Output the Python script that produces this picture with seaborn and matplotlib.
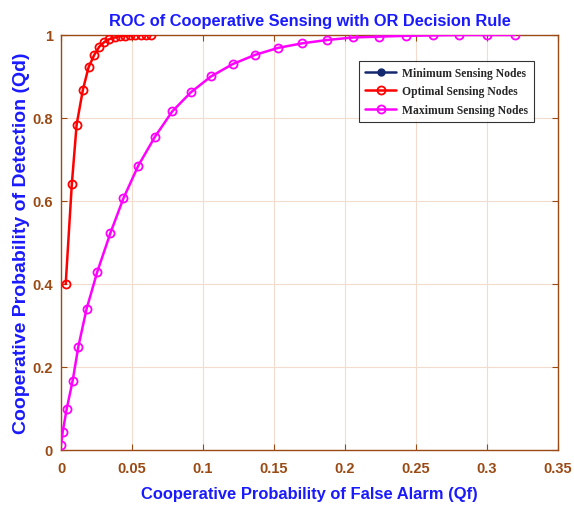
import matplotlib
matplotlib.use("Agg")
import matplotlib.pyplot as plt
import seaborn as sns
import numpy as np
import pandas as pd

# ---- data ----
qf_optimal = [0.0033, 0.0076, 0.011, 0.0154, 0.0194, 0.0234, 0.027, 0.0305, 0.034,
              0.0378, 0.0415, 0.045, 0.0487, 0.0523, 0.056, 0.0597, 0.0633]
qd_optimal = [0.40, 0.64, 0.784, 0.868, 0.922, 0.952, 0.972, 0.983, 0.99,
              0.994, 0.997, 0.998, 0.999, 1.0, 1.0, 1.0, 1.0]

# minimum-nodes curve: listed in the legend but no visible points in the reference
qf_minimum = []
qd_minimum = []

qf_maximum = [0.0, 0.0012, 0.004, 0.0082, 0.0122, 0.018, 0.0256, 0.0347, 0.0439,
              0.0544, 0.0662, 0.0784, 0.0915, 0.1056, 0.121, 0.1366, 0.153, 0.170,
              0.1876, 0.2058, 0.224, 0.243, 0.2618, 0.2805, 0.2998, 0.3197]
qd_maximum = [0.012, 0.044, 0.099, 0.167, 0.249, 0.34, 0.43, 0.522, 0.606,
              0.685, 0.755, 0.816, 0.862, 0.90, 0.930, 0.952, 0.969, 0.980,
              0.988, 0.994, 0.996, 0.998, 0.999, 1.0, 1.0, 1.0]

series_names = ["Minimum Sensing Nodes", "Optimal Sensing Nodes", "Maximum Sensing Nodes"]
x_ticks = [0, 0.05, 0.1, 0.15, 0.2, 0.25, 0.3, 0.35]
x_tick_labels = ["0", "0.05", "0.1", "0.15", "0.2", "0.25", "0.3", "0.35"]
y_ticks = [0, 0.2, 0.4, 0.6, 0.8, 1.0]
y_tick_labels = ["0", "0.2", "0.4", "0.6", "0.8", "1"]

title = "ROC of Cooperative Sensing with OR Decision Rule"
xlabel = "Cooperative Probability of False Alarm (Qf)"
ylabel = "Cooperative Probability of Detection (Qd)"

# ---- style ----
sns.set_theme(style="white")
plt.rcParams['font.family'] = ['Liberation Sans', 'DejaVu Sans']

brown = "#9a4a14"
grid_c = "#f2dccd"
blue = "#1a1aff"
navy = "#14286e"

fig = plt.figure(figsize=(5.74, 5.06), dpi=100)
ax = fig.add_axes([0.1063, 0.1087, 0.972 - 0.1063, 0.9289 - 0.1087])

# legend-only entry (empty series)
ax.plot(qf_minimum, qd_minimum, color=navy, lw=1.8, marker="o", markersize=5,
        markerfacecolor=navy, markeredgecolor=navy, label=series_names[0])
sns.lineplot(x=qf_optimal, y=qd_optimal, ax=ax, sort=False, estimator=None,
             color="red", lw=1.8, marker="o", markersize=5.8,
             markerfacecolor="none", markeredgecolor="red", markeredgewidth=1.3,
             label=series_names[1], zorder=3)
sns.lineplot(x=qf_maximum, y=qd_maximum, ax=ax, sort=False, estimator=None,
             color="#ff00ff", lw=1.8, marker="o", markersize=5.8,
             markerfacecolor="none", markeredgecolor="#ff00ff", markeredgewidth=1.3,
             label=series_names[2], zorder=3)

ax.set_xlim(0, 0.35)
ax.set_ylim(0, 1)
ax.set_xticks(x_ticks)
ax.set_xticklabels(x_tick_labels)
ax.set_yticks(y_ticks)
ax.set_yticklabels(y_tick_labels)

ax.grid(True, color=grid_c, lw=0.8)
ax.set_axisbelow(True)
for s in ax.spines.values():
    s.set_color(brown)
    s.set_linewidth(1.0)
    s.set_visible(True)

ax.tick_params(axis="both", which="both", direction="in", length=4, width=0.8,
               colors=brown, labelcolor=brown, labelsize=10.5,
               top=True, right=True, bottom=True, left=True)
for lbl in ax.get_xticklabels() + ax.get_yticklabels():
    lbl.set_fontweight("bold")
ax.tick_params(axis="x", pad=8)
ax.tick_params(axis="y", pad=6)

ax.set_title(title, color=blue, fontsize=11.8, fontweight="bold", pad=7.5)
ax.set_xlabel(xlabel, color=blue, fontsize=11.9, fontweight="bold", labelpad=8)
ax.set_ylabel(ylabel, color=blue, fontsize=14, fontweight="bold", labelpad=1.5)

leg = ax.legend(loc="upper right", bbox_to_anchor=(0.9517, 0.937),
                prop={"family": "Liberation Serif", "weight": "bold", "size": 8.4},
                frameon=True, fancybox=False, edgecolor="black",
                borderpad=0.5, labelspacing=0.55, handlelength=2.7,
                handletextpad=0.5, borderaxespad=0.0)
leg.get_frame().set_linewidth(0.8)

fig.savefig("out.png", dpi=100)
